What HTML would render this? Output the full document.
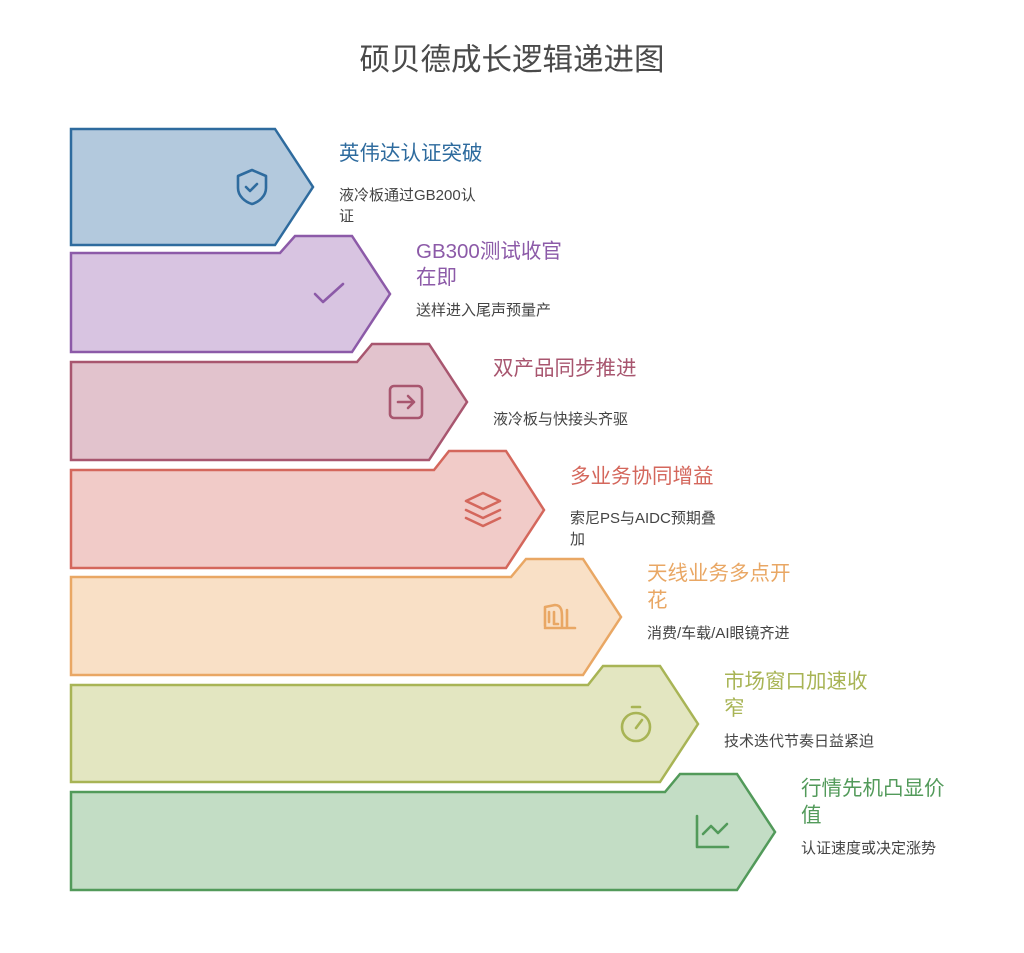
<!DOCTYPE html>
<html><head><meta charset="utf-8"><style>
html,body{margin:0;padding:0;background:#fff;}
svg text{font-family:"Liberation Sans","Noto Sans CJK SC",sans-serif;}
</style></head><body>
<svg width="1024" height="948" viewBox="0 0 1024 948" xmlns="http://www.w3.org/2000/svg">
<text x="512" y="70" text-anchor="middle" font-size="30.5" fill="#4a4a4a">硕贝德成长逻辑递进图</text>
<g stroke-width="2.5" stroke-linejoin="miter">
<polygon points="71,129 275,129 313,187 275,245 71,245" fill="#b3c9dd" stroke="#2e6b9e"/>
<polygon points="71,253 280,253 295,236 352,236 390,294 352,352 71,352" fill="#d8c4e1" stroke="#8c5aa8"/>
<polygon points="71,362 357,362 372,344 429,344 467,402 429,460 71,460" fill="#e2c3cd" stroke="#a8566f"/>
<polygon points="71,470 434,470 449,451 506,451 544,510 506,568 71,568" fill="#f1cbc8" stroke="#d4675c"/>
<polygon points="71,577 511,577 526,559 583,559 621,617 583,675 71,675" fill="#f9e0c6" stroke="#e9a764"/>
<polygon points="71,685 588,685 603,666 660,666 698,724 660,782 71,782" fill="#e3e6c1" stroke="#a8b455"/>
<polygon points="71,792 665,792 680,774 737,774 775,832 737,890 71,890" fill="#c3ddc5" stroke="#529a5a"/>
</g>
<g fill="none" stroke-width="2.6" stroke-linecap="round" stroke-linejoin="round">
<path d="M252,170 L266,176 L266,188 C266,196 259,202 252,204 C245,202 238,196 238,188 L238,176 Z M246,187 L250,191 L257,184" stroke="#2e6b9e"/>
<path d="M315,294 L323,302 L343,284" stroke="#8c5aa8"/>
<rect x="390" y="386" width="32" height="32" rx="4" stroke="#a8566f"/><path d="M398,402 L414,402 M408,396 L414,402 L408,408" stroke="#a8566f"/>
<path d="M483,493 L500,501 L483,509 L466,501 Z M466,510 L483,518 L500,510 M466,518 L483,526 L500,518" stroke="#d4675c"/>
<path d="M545,626 L545,607 L555,605 C562,605 562,612 562,618 L562,626 M549,612 L549,622 M554,612 L554,624 L558,624 M545,628 L575,628 M567,610 L567,626" stroke="#e9a764"/>
<circle cx="636" cy="727" r="14" stroke="#a8b455"/><path d="M632,707 L640,707 M636,728 L642,720" stroke="#a8b455"/>
<path d="M697,816 L697,847 L728,847 M703,834 L711,826 L718,833 L727,824" stroke="#529a5a"/>
</g>
<g font-size="20.5">
<text x="339" y="160" fill="#2e6b9e">英伟达认证突破</text>
<text x="416" y="258" fill="#8c5aa8">GB300测试收官</text><text x="416" y="284" fill="#8c5aa8">在即</text>
<text x="493" y="375" fill="#a8566f">双产品同步推进</text>
<text x="570" y="483" fill="#d4675c">多业务协同增益</text>
<text x="647" y="580" fill="#e9a764">天线业务多点开</text><text x="647" y="607" fill="#e9a764">花</text>
<text x="724" y="688" fill="#a8b455">市场窗口加速收</text><text x="724" y="715" fill="#a8b455">窄</text>
<text x="801" y="795" fill="#529a5a">行情先机凸显价</text><text x="801" y="822" fill="#529a5a">值</text>
</g>
<g font-size="15" fill="#444">
<text x="339" y="200">液冷板通过GB200认</text><text x="339" y="221">证</text>
<text x="416" y="315">送样进入尾声预量产</text>
<text x="493" y="424">液冷板与快接头齐驱</text>
<text x="570" y="523">索尼PS与AIDC预期叠</text><text x="570" y="544">加</text>
<text x="647" y="638">消费/车载/AI眼镜齐进</text>
<text x="724" y="746">技术迭代节奏日益紧迫</text>
<text x="801" y="853">认证速度或决定涨势</text>
</g>
</svg>
</body></html>
